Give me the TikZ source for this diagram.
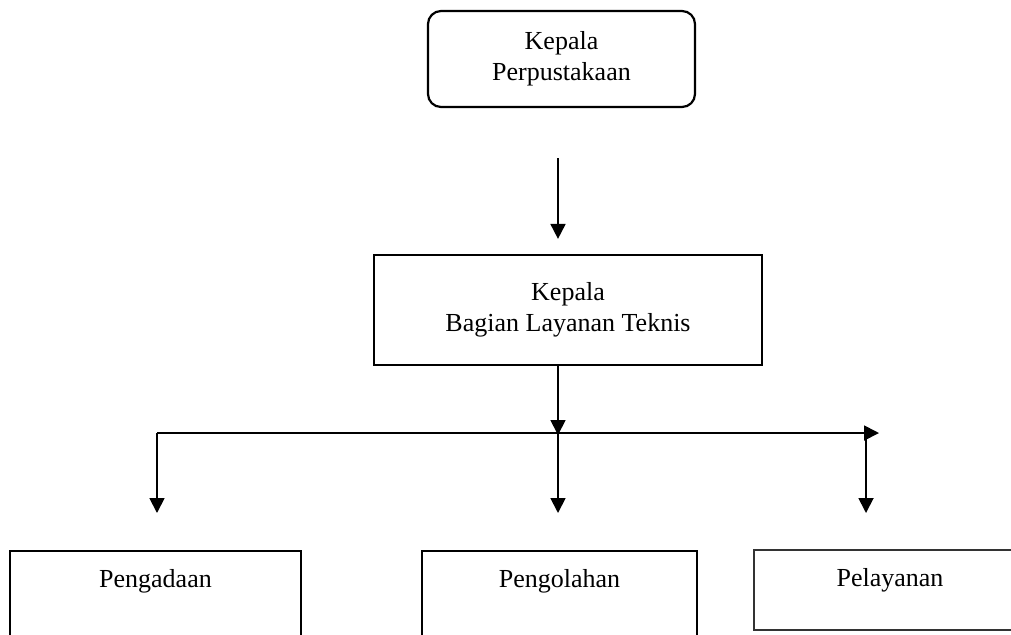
\documentclass[tikz,border=0pt]{standalone}
\usepackage{fontspec}
\setmainfont{Liberation Serif}
\usetikzlibrary{arrows.meta}

\begin{document}
\begin{tikzpicture}[x=0.5pt,y=-0.5pt,
        box/.style={draw,line width=1.1pt,align=center,inner xsep=0pt,
                    font=\fontsize{13}{15.5}\selectfont},
        unit/.style={box,anchor=north,inner ysep=9pt,text height=9pt,text depth=#1},
        arr/.style={line width=0.9pt,-{Triangle[length=7.5pt,width=7.5pt]}}]
        \useasboundingbox (0,0) rectangle (1011,634);
        \clip (0,0) rectangle (1011,634);

        \coordinate (top)   at (558,158);
        \coordinate (split) at (558,433);
        \coordinate (left)  at (157,433);
        \coordinate (right) at (879,433);
        \coordinate (rdrop) at (866,437);

        \node[box,rounded corners=6.5pt,minimum width=133.5pt,minimum height=48pt]
              (kepala)  at (561.5,59) {Kepala\\Perpustakaan};
        \node[box,minimum width=194pt,minimum height=55pt]
              (teknis)  at (568,310)  {Kepala\\Bagian Layanan Teknis};
        \node[unit=33pt,minimum width=145.5pt] (pengadaan)  at (155.5,550) {Pengadaan};
        \node[unit=33pt,minimum width=137.5pt] (pengolahan) at (559.5,550) {Pengolahan};
        \node[unit=13pt,minimum width=136pt,draw=black!80] (pelayanan) at (890,549) {Pelayanan};

        \draw[arr,shorten >=7.5pt] (top) -- (top |- teknis.north);
        \draw[arr] (teknis.south -| split) -- ([yshift=-1pt]split);
        \draw[arr] (left) -- (right);
        \draw[arr,shorten >=18.5pt] (left)  -- (left |- pengadaan.north);
        \draw[arr,shorten >=18.5pt] (split) -- (split |- pengolahan.north);
        \draw[arr,shorten >=18pt]   (rdrop) -- (rdrop |- pelayanan.north);
\end{tikzpicture}
\end{document}
